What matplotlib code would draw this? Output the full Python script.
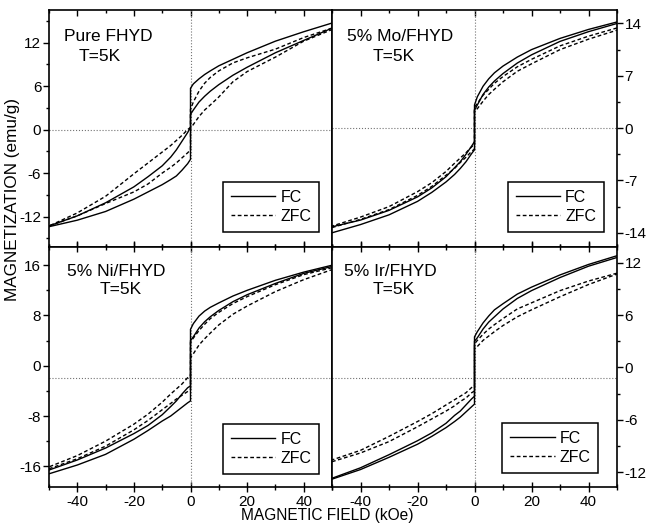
import numpy as np
import matplotlib
matplotlib.use('Agg')
from matplotlib import pyplot as plt
from matplotlib.lines import Line2D
from matplotlib.ticker import MultipleLocator

plt.rcParams['font.family'] = ['Liberation Sans', 'DejaVu Sans']
plt.rcParams['axes.unicode_minus'] = False

# field sweep: descending branch (50 -> -50) and ascending branch (-50 -> 50), kOe
# 0 appears twice because of the jump at zero field
field_down = [50, 40, 30, 20, 15, 10, 7, 5, 3, 1, 0, 0, -1, -3, -5, -7, -10, -15, -20, -30, -40, -50]
field_up = [-50, -40, -30, -20, -15, -10, -7, -5, -3, -1, 0, 0, 1, 3, 5, 7, 10, 15, 20, 30, 40, 50]

# Pure FHYD
pure_fc_down = [14.7, 13.5, 12.2, 10.6, 9.7, 8.8, 8.1, 7.6, 7.0, 6.3, 5.7,
                0.3, -0.4, -1.6, -2.8, -3.8, -5.0, -6.5, -7.9, -10.1, -11.9, -13.3]
pure_fc_up = [-13.4, -12.5, -11.3, -9.6, -8.6, -7.6, -6.9, -6.4, -5.6, -4.7, -4.1,
              2.1, 2.7, 3.8, 4.6, 5.3, 6.2, 7.5, 8.6, 10.6, 12.3, 14.0]
pure_zfc_down = [14.0, 12.7, 11.1, 9.9, 9.2, 8.1, 7.2, 6.4, 5.3, 3.8, 2.8,
                 0.3, 0.0, -0.8, -1.5, -2.2, -3.1, -4.6, -6.1, -9.2, -11.5, -13.3]
pure_zfc_up = [-13.3, -11.9, -10.2, -8.6, -7.5, -6.0, -5.2, -4.6, -3.9, -3.2, -2.8,
               0.2, 0.7, 1.8, 2.7, 3.4, 4.5, 6.6, 8.0, 10.0, 12.2, 13.8]

# 5% Mo/FHYD
mo_fc_down = [14.2, 13.2, 12.0, 10.5, 9.5, 8.3, 7.4, 6.6, 5.6, 4.2, 3.1,
              -1.8, -2.4, -3.5, -4.5, -5.3, -6.5, -8.0, -9.2, -11.0, -12.3, -13.2]
mo_fc_up = [-14.0, -12.9, -11.6, -9.8, -8.6, -7.2, -6.2, -5.4, -4.5, -3.4, -2.9,
            2.4, 3.1, 4.5, 5.5, 6.3, 7.3, 8.7, 9.8, 11.6, 12.9, 14.0]
mo_zfc_down = [13.4, 12.3, 11.0, 9.2, 8.2, 6.9, 6.0, 5.2, 4.4, 3.3, 2.8,
               -2.2, -2.5, -3.3, -4.0, -4.7, -5.8, -7.3, -8.5, -10.5, -11.9, -13.1]
mo_zfc_up = [-13.3, -12.2, -10.9, -9.0, -7.8, -6.3, -5.4, -4.6, -3.9, -3.1, -2.8,
             2.3, 2.6, 3.6, 4.5, 5.2, 6.2, 7.6, 8.6, 10.5, 11.9, 13.1]

# 5% Ni/FHYD
ni_fc_down = [16.0, 14.9, 13.6, 12.0, 11.1, 10.0, 9.3, 8.7, 7.9, 6.7, 5.8,
              -3.2, -3.5, -4.5, -5.6, -6.5, -7.8, -9.5, -10.8, -13.1, -15.0, -16.6]
ni_fc_up = [-17.2, -15.8, -14.1, -11.7, -10.3, -8.8, -8.0, -7.3, -6.6, -5.9, -5.6,
            4.0, 4.6, 6.0, 7.0, 7.8, 8.8, 10.2, 11.3, 13.1, 14.7, 15.8]
ni_zfc_down = [15.6, 14.5, 12.9, 11.0, 9.9, 8.5, 7.5, 6.6, 5.6, 4.4, 3.7,
               -1.5, -1.9, -2.9, -3.7, -4.5, -5.8, -7.7, -9.3, -12.0, -14.3, -16.1]
ni_zfc_up = [-16.4, -14.8, -12.8, -10.2, -8.7, -7.0, -6.0, -5.3, -4.7, -4.1, -3.8,
             1.3, 1.9, 3.3, 4.3, 5.2, 6.5, 8.2, 9.5, 11.8, 13.7, 15.3]

# 5% Ir/FHYD
ir_fc_down = [12.8, 11.8, 10.6, 9.2, 8.4, 7.3, 6.6, 5.9, 5.1, 4.1, 3.5,
              -3.3, -3.6, -4.3, -5.0, -5.5, -6.4, -7.5, -8.4, -10.0, -11.5, -12.7]
ir_fc_up = [-12.8, -11.7, -10.3, -8.8, -7.9, -6.9, -6.2, -5.7, -5.1, -4.5, -4.2,
            3.0, 3.4, 4.4, 5.2, 5.8, 6.7, 7.9, 8.8, 10.3, 11.6, 12.6]
ir_zfc_down = [10.8, 9.9, 8.8, 7.4, 6.7, 5.6, 4.9, 4.4, 3.8, 3.1, 2.7,
               -2.1, -2.3, -2.9, -3.3, -3.7, -4.3, -5.3, -6.2, -7.9, -9.5, -10.6]
ir_zfc_up = [-10.8, -9.8, -8.5, -6.8, -5.9, -5.0, -4.4, -3.9, -3.5, -2.9, -2.7,
             2.2, 2.4, 3.1, 3.6, 4.1, 4.8, 5.8, 6.6, 8.1, 9.5, 10.7]

names = ['Pure FHYD', '5% Mo/FHYD', '5% Ni/FHYD', '5% Ir/FHYD']
ylims = [(-16.2, 16.5), (-15.9, 15.8), (-19.3, 18.9), (-13.7, 13.8)]
ysteps = [6, 7, 8, 6]
hlines = [0, 0, -1.9, -1.2]

curves = [
    (pure_fc_down, pure_fc_up, pure_zfc_down, pure_zfc_up),
    (mo_fc_down, mo_fc_up, mo_zfc_down, mo_zfc_up),
    (ni_fc_down, ni_fc_up, ni_zfc_down, ni_zfc_up),
    (ir_fc_down, ir_fc_up, ir_zfc_down, ir_zfc_up),
]

fig = plt.figure(figsize=(6.47, 5.31), dpi=100)
x0, xm, x1 = 49 / 647, 332 / 647, 617 / 647
y1, ym, y0 = 1 - 10 / 531, 1 - 247 / 531, 1 - 487 / 531
boxes = [
    [x0, ym, xm - x0, y1 - ym],
    [xm, ym, x1 - xm, y1 - ym],
    [x0, y0, xm - x0, ym - y0],
    [xm, y0, x1 - xm, ym - y0],
]
# text positions (axes fraction): first line, second line
txt1 = [(0.052, 0.92), (0.052, 0.92), (0.062, 0.93), (0.042, 0.93)]
txt2 = [(0.104, 0.835), (0.142, 0.835), (0.178, 0.855), (0.142, 0.855)]
leg_anchor = [(0.955, 0.065), (0.955, 0.065), (0.955, 0.055), (0.935, 0.06)]

dash = (2.7, 1.8)
lw = 1.0
for i in range(4):
    ax = fig.add_axes(boxes[i])
    fd, fu, zd, zu = curves[i]
    ax.axhline(hlines[i], color='0.45', ls=':', lw=0.8)
    ax.axvline(0, color='0.45', ls=':', lw=0.8)
    ax.plot(field_down, fd, color='black', lw=lw)
    ax.plot(field_up, fu, color='black', lw=lw)
    ax.plot(field_down, zd, color='black', lw=lw, ls='--', dashes=dash)
    ax.plot(field_up, zu, color='black', lw=lw, ls='--', dashes=dash)

    ax.set_xlim(-50, 50)
    ax.set_ylim(*ylims[i])
    ax.xaxis.set_major_locator(MultipleLocator(20))
    ax.xaxis.set_minor_locator(MultipleLocator(10))
    ax.yaxis.set_major_locator(MultipleLocator(ysteps[i]))
    ax.yaxis.set_minor_locator(MultipleLocator(ysteps[i] / 2))
    for s in ax.spines.values():
        s.set_linewidth(1.2)

    if i % 2 == 1:
        ax.yaxis.tick_right()
    ax.tick_params(axis='y', which='both', direction='out', labelsize=11, pad=1.5)
    ax.tick_params(axis='y', which='major', length=4, width=1)
    ax.tick_params(axis='y', which='minor', length=2, width=1)
    if i < 2:
        ax.tick_params(axis='x', which='both', direction='in', top=True, bottom=True,
                       labelbottom=False)
        ax.tick_params(axis='x', which='major', length=4, width=1)
        ax.tick_params(axis='x', which='minor', length=2, width=1)
    else:
        ax.tick_params(axis='x', which='both', direction='inout', top=True, bottom=True,
                       labelsize=11, pad=2)
        ax.tick_params(axis='x', which='major', length=7, width=1)
        ax.tick_params(axis='x', which='minor', length=4, width=1)

    ax.text(*txt1[i], names[i], transform=ax.transAxes, fontsize=12.5, va='top', ha='left')
    ax.text(*txt2[i], 'T=5K', transform=ax.transAxes, fontsize=12.5, va='top', ha='left')

    handles = [Line2D([], [], color='black', lw=lw, label='FC'),
               Line2D([], [], color='black', lw=lw, ls='--', dashes=dash, label='ZFC')]
    leg = ax.legend(handles=handles, loc='lower right', bbox_to_anchor=leg_anchor[i],
                    fontsize=11.5, frameon=True, fancybox=False, edgecolor='black',
                    framealpha=1, handlelength=2.8, handletextpad=0.3,
                    labelspacing=0.25, borderpad=0.5, borderaxespad=0)
    leg.get_frame().set_linewidth(1.1)

fig.text(0.019, 1 - 200 / 531, 'MAGNETIZATION (emu/g)', rotation=90, fontsize=12.3,
         ha='center', va='center')
fig.text(327 / 647, 0.03, 'MAGNETIC FIELD (kOe)', fontsize=11.2, ha='center', va='center')

plt.savefig('out.png', dpi=100)
